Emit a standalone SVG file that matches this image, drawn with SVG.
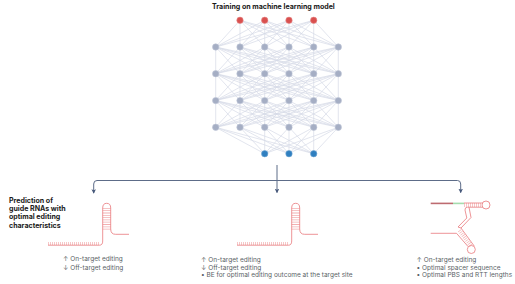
<svg xmlns="http://www.w3.org/2000/svg" width="515" height="284" viewBox="0 0 515 284">
<style>
  text { font-family: "Inter", "Liberation Sans", sans-serif; }
  .head { font-size: 7.05px; font-weight: 700; fill: #1a1a1a; }
  .note { font-size: 6.5px; fill: #5a5f66; }
  .edge { fill: none; stroke: #d6dae6; stroke-width: 0.7; }
  .in { fill: #d9504f; stroke: #e58a88; stroke-width: 0.6; }
  .hid { fill: #a5aec4; stroke: #c0c6d6; stroke-width: 0.6; }
  .out { fill: #2f7fc0; stroke: #6fa6d4; stroke-width: 0.6; }
  .flow { fill: none; stroke: #5d6c88; stroke-width: 1; }
  .rna { fill: none; stroke: #e9797c; stroke-width: 0.8; }
  .rung { fill: none; stroke: #f2b0b1; }
</style>
<defs>
  <!-- every unit of one hidden row wired to every unit of the next row -->
  <path id="fan" class="edge" d="M215.7 0L215.7 26.7M215.7 0L240 26.7M215.7 0L264.7 26.7M215.7 0L289 26.7M215.7 0L313.7 26.7M215.7 0L338.3 26.7M240 0L215.7 26.7M240 0L240 26.7M240 0L264.7 26.7M240 0L289 26.7M240 0L313.7 26.7M240 0L338.3 26.7M264.7 0L215.7 26.7M264.7 0L240 26.7M264.7 0L264.7 26.7M264.7 0L289 26.7M264.7 0L313.7 26.7M264.7 0L338.3 26.7M289 0L215.7 26.7M289 0L240 26.7M289 0L264.7 26.7M289 0L289 26.7M289 0L313.7 26.7M289 0L338.3 26.7M313.7 0L215.7 26.7M313.7 0L240 26.7M313.7 0L264.7 26.7M313.7 0L289 26.7M313.7 0L313.7 26.7M313.7 0L338.3 26.7M338.3 0L215.7 26.7M338.3 0L240 26.7M338.3 0L264.7 26.7M338.3 0L289 26.7M338.3 0L313.7 26.7M338.3 0L338.3 26.7"/>
  <marker id="tip" viewBox="0 0 6 6" refX="5" refY="3" markerWidth="4.5" markerHeight="4.5" orient="auto" markerUnits="userSpaceOnUse">
    <path d="M0 0L6 3L0 6L1.2 3Z" fill="#46587a"/>
  </marker>
  <!-- guide RNA drawn as a single hairpin with a long 5' tail -->
  <g id="hairpin">
    <path class="rung" stroke-width="8" stroke-dasharray="0.8 1.5" d="M106.7 208V231"/>
    <path class="rung" stroke-width="3" stroke-dasharray="0.7 1.3" d="M48 243.6H100"/>
    <path class="rna" d="M48 245.2H99.5Q102.7 245.2 102.7 241V208Q102.7 203.3 106.7 203.3Q110.7 203.3 110.7 208V229Q110.7 234.3 115.5 234.3H129"/>
  </g>
</defs>

<text class="head" x="212" y="8.5">Training on machine learning model</text>

<g id="connectors">
  <path class="edge" d="M240 20.3L215.7 47M240 20.3L240 47M240 20.3L264.7 47M240 20.3L289 47M240 20.3L313.7 47M240 20.3L338.3 47M264.7 20.3L215.7 47M264.7 20.3L240 47M264.7 20.3L264.7 47M264.7 20.3L289 47M264.7 20.3L313.7 47M264.7 20.3L338.3 47M289 20.3L215.7 47M289 20.3L240 47M289 20.3L264.7 47M289 20.3L289 47M289 20.3L313.7 47M289 20.3L338.3 47M313.7 20.3L215.7 47M313.7 20.3L240 47M313.7 20.3L264.7 47M313.7 20.3L289 47M313.7 20.3L313.7 47M313.7 20.3L338.3 47"/>
  <use href="#fan" y="47"/>
  <use href="#fan" y="73.7"/>
  <use href="#fan" y="100.6"/>
  <path class="edge" d="M215.7 127.3L264.7 153.7M215.7 127.3L289 153.7M215.7 127.3L313.7 153.7M240 127.3L264.7 153.7M240 127.3L289 153.7M240 127.3L313.7 153.7M264.7 127.3L264.7 153.7M264.7 127.3L289 153.7M264.7 127.3L313.7 153.7M289 127.3L264.7 153.7M289 127.3L289 153.7M289 127.3L313.7 153.7M313.7 127.3L264.7 153.7M313.7 127.3L289 153.7M313.7 127.3L313.7 153.7M338.3 127.3L264.7 153.7M338.3 127.3L289 153.7M338.3 127.3L313.7 153.7"/>
  <path class="flow" stroke-width="1.6" d="M277 165V180.5"/>
  <path class="flow" marker-end="url(#tip)" d="M277 180.5V192.5"/>
  <path class="flow" marker-end="url(#tip)" d="M277 180.5H97Q93.7 180.5 93.7 184V193"/>
  <path class="flow" marker-end="url(#tip)" d="M277 180.5H457.5Q460.7 180.5 460.7 184V192.5"/>
</g>

<g id="in1"><circle class="in" cx="240" cy="20.3" r="3.2"/></g>
<g id="in2"><circle class="in" cx="264.7" cy="20.3" r="3.2"/></g>
<g id="in3"><circle class="in" cx="289" cy="20.3" r="3.2"/></g>
<g id="in4"><circle class="in" cx="313.7" cy="20.3" r="3.2"/></g>

<g id="h1a"><circle class="hid" cx="215.7" cy="47" r="3.2"/></g>
<g id="h1b"><circle class="hid" cx="240" cy="47" r="3.2"/></g>
<g id="h1c"><circle class="hid" cx="264.7" cy="47" r="3.2"/></g>
<g id="h1d"><circle class="hid" cx="289" cy="47" r="3.2"/></g>
<g id="h1e"><circle class="hid" cx="313.7" cy="47" r="3.2"/></g>
<g id="h1f"><circle class="hid" cx="338.3" cy="47" r="3.2"/></g>

<g id="h2a"><circle class="hid" cx="215.7" cy="73.7" r="3.2"/></g>
<g id="h2b"><circle class="hid" cx="240" cy="73.7" r="3.2"/></g>
<g id="h2c"><circle class="hid" cx="264.7" cy="73.7" r="3.2"/></g>
<g id="h2d"><circle class="hid" cx="289" cy="73.7" r="3.2"/></g>
<g id="h2e"><circle class="hid" cx="313.7" cy="73.7" r="3.2"/></g>
<g id="h2f"><circle class="hid" cx="338.3" cy="73.7" r="3.2"/></g>

<g id="h3a"><circle class="hid" cx="215.7" cy="100.6" r="3.2"/></g>
<g id="h3b"><circle class="hid" cx="240" cy="100.6" r="3.2"/></g>
<g id="h3c"><circle class="hid" cx="264.7" cy="100.6" r="3.2"/></g>
<g id="h3d"><circle class="hid" cx="289" cy="100.6" r="3.2"/></g>
<g id="h3e"><circle class="hid" cx="313.7" cy="100.6" r="3.2"/></g>
<g id="h3f"><circle class="hid" cx="338.3" cy="100.6" r="3.2"/></g>

<g id="h4a"><circle class="hid" cx="215.7" cy="127.3" r="3.2"/></g>
<g id="h4b"><circle class="hid" cx="240" cy="127.3" r="3.2"/></g>
<g id="h4c"><circle class="hid" cx="264.7" cy="127.3" r="3.2"/></g>
<g id="h4d"><circle class="hid" cx="289" cy="127.3" r="3.2"/></g>
<g id="h4e"><circle class="hid" cx="313.7" cy="127.3" r="3.2"/></g>
<g id="h4f"><circle class="hid" cx="338.3" cy="127.3" r="3.2"/></g>

<g id="out1"><circle class="out" cx="264.7" cy="153.7" r="3.2"/></g>
<g id="out2"><circle class="out" cx="289" cy="153.7" r="3.2"/></g>
<g id="out3"><circle class="out" cx="313.7" cy="153.7" r="3.2"/></g>

<g id="heading-left">
  <text class="head" x="9" y="202.5">Prediction of</text>
  <text class="head" x="9" y="211">guide RNAs with</text>
  <text class="head" x="9" y="219.3">optimal editing</text>
  <text class="head" x="9" y="227.5">characteristics</text>
</g>

<g id="guide-a"><use href="#hairpin"/></g>
<g id="guide-b"><use href="#hairpin" x="189"/></g>

<!-- prime editing guide: spacer, scaffold and two looped stems -->
<g id="guide-c">
  <path fill="none" stroke="#bd6b70" stroke-width="1.6" d="M430.7 203.4H453"/>
  <path fill="none" stroke="#a5dcae" stroke-width="1.6" d="M453 203.4H464"/>
  <path class="rung" stroke-width="4.2" stroke-dasharray="0.7 1.3" d="M464 205H482"/>
  <path class="rna" d="M464 203H482.5M482.5 207.2H467.5Q464.8 207.2 465 210L466.8 218L458 227M469 207.2L471 217.5L461 228"/>
  <circle class="rna" cx="486" cy="205" r="4"/>
  <path class="rna" d="M430.7 233.3H456.5L468 246.5"/>
  <path class="rna" d="M458 227L461 228L474.2 246"/>
  <path class="rung" stroke-width="4" stroke-dasharray="0.7 1.3" d="M459.5 230.5L471 245.8"/>
  <circle class="rna" cx="471.3" cy="249.5" r="4"/>
</g>

<g id="notes-a">
  <text class="note" x="63" y="261.3">↑ On-target editing</text>
  <text class="note" x="63" y="269.6">↓ Off-target editing</text>
</g>
<g id="notes-b">
  <text class="note" x="201" y="261.8">↑ On-target editing</text>
  <text class="note" x="201" y="269.6">↓ Off-target editing</text>
  <text class="note" x="201" y="277">• BE for optimal editing outcome at the target site</text>
</g>
<g id="notes-c">
  <text class="note" x="416.5" y="261.8">↑ On-target editing</text>
  <text class="note" x="416.5" y="269.6">• Optimal spacer sequence</text>
  <text class="note" x="416.5" y="277">• Optimal PBS and RTT lengths</text>
</g>
</svg>
